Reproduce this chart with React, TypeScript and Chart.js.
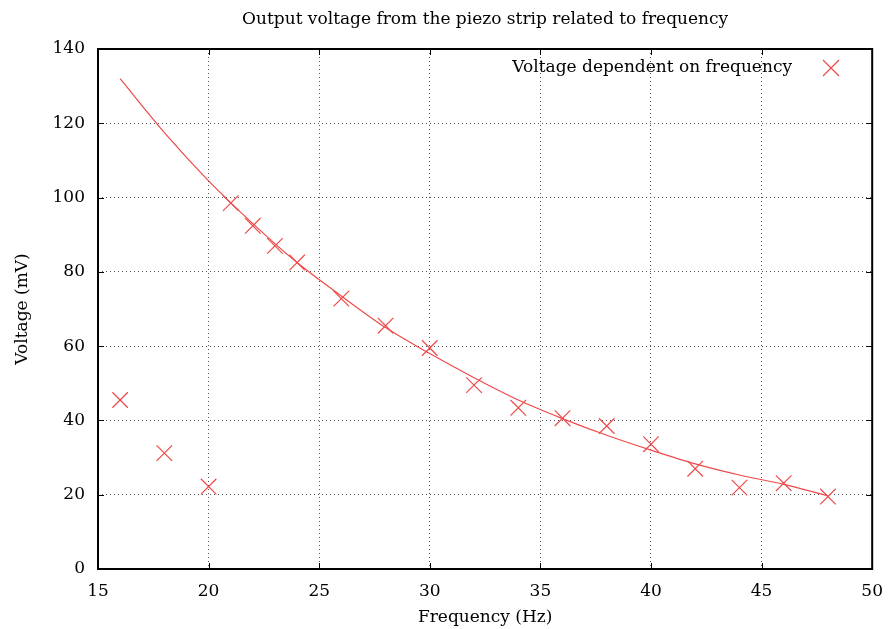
import React, { useEffect, useRef } from "react";
import { Chart, registerables } from "chart.js";

Chart.register(...registerables);

const freqs = [16, 18, 20, 21, 22, 23, 24, 26, 28, 30, 32, 34, 36, 38, 40, 42, 44, 46, 48];
const voltages = [45.5, 31.2, 22.2, 98.5, 92.4, 87, 82.5, 72.8, 65.5, 59.5, 49.5, 43.4, 40.6, 38.5, 33.6, 27, 21.9, 23.1, 19.5];
const fitX = [16, 18, 20, 22, 24, 26, 28, 30, 32, 34, 36, 38, 40, 42, 44, 46, 48];
const fitY = [132, 117.5, 104.5, 93, 82.5, 73.5, 65, 58, 51.5, 45.5, 40.5, 36, 32, 28.3, 25.3, 22.8, 19.7];
const xTicks = [15, 20, 25, 30, 35, 40, 45, 50];
const yTicks = [0, 20, 40, 60, 80, 100, 120, 140];

const TITLE = "Output voltage from the piezo strip related to frequency";
const X_TITLE = "Frequency (Hz)";
const Y_TITLE = "Voltage (mV)";
const LEGEND = "Voltage dependent on frequency";

const FONT = "'DejaVu Serif', serif";
const RED = "#ef4a4a";

const frame = {
  id: "frame",
  afterDatasetsDraw(chart: any) {
    const { ctx, chartArea: a, scales } = chart;
    const xs = scales.x, ys = scales.y;
    ctx.save();
    ctx.strokeStyle = "#000";
    ctx.lineWidth = 1;
    const tl = 6;
    ctx.beginPath();
    for (const v of xTicks) {
      const px = Math.round(xs.getPixelForValue(v)) + 0.5;
      ctx.moveTo(px, a.bottom);
      ctx.lineTo(px, a.bottom - tl);
      ctx.moveTo(px, a.top);
      ctx.lineTo(px, a.top + tl);
    }
    for (const v of yTicks) {
      const py = Math.round(ys.getPixelForValue(v)) + 0.5;
      ctx.moveTo(a.left, py);
      ctx.lineTo(a.left + tl, py);
      ctx.moveTo(a.right, py);
      ctx.lineTo(a.right - tl, py);
    }
    ctx.stroke();
    ctx.lineWidth = 2;
    ctx.strokeRect(a.left, a.top, a.right - a.left, a.bottom - a.top);
    // title
    ctx.font = "17px " + FONT;
    ctx.fillStyle = "#000";
    ctx.textAlign = "center";
    ctx.textBaseline = "middle";
    ctx.fillText(TITLE, (a.left + a.right) / 2, 20);
    // legend
    ctx.textAlign = "right";
    ctx.fillText(LEGEND, 792, 68);
    ctx.strokeStyle = RED;
    ctx.lineWidth = 1.2;
    const cx = 831, cy = 68, r = 8;
    ctx.beginPath();
    ctx.moveTo(cx - r, cy - r);
    ctx.lineTo(cx + r, cy + r);
    ctx.moveTo(cx - r, cy + r);
    ctx.lineTo(cx + r, cy - r);
    ctx.stroke();
    ctx.restore();
  },
};

export default function App() {
  const ref = useRef<HTMLCanvasElement>(null);
  useEffect(() => {
    const chart = new Chart(ref.current!, {
      type: "scatter",
      data: {
        datasets: [
          {
            label: LEGEND,
            data: freqs.map((x, i) => ({ x, y: voltages[i] })),
            pointStyle: "crossRot",
            pointRadius: 11,
            pointHoverRadius: 11,
            borderColor: RED,
            backgroundColor: RED,
            pointBorderColor: RED,
            pointBackgroundColor: RED,
            pointBorderWidth: 1.2,
            showLine: false,
          },
          {
            type: "line",
            label: "fit",
            data: fitX.map((x, i) => ({ x, y: fitY[i] })),
            borderColor: RED,
            backgroundColor: RED,
            borderWidth: 1.2,
            pointRadius: 0,
            cubicInterpolationMode: "monotone",
            fill: false,
          } as any,
        ],
      },
      options: {
        animation: false,
        responsive: true,
        maintainAspectRatio: false,
        events: [],
        layout: { padding: { left: 0, right: 13, top: 49, bottom: 0 } },
        plugins: {
          colors: { enabled: false },
          legend: { display: false },
          tooltip: { enabled: false },
          title: { display: false },
        },
        scales: {
          x: {
            type: "linear",
            min: 15,
            max: 50,
            afterBuildTicks: (s: any) => {
              s.ticks = xTicks.map((v) => ({ value: v }));
            },
            afterFit: (s: any) => {
              s.height = 60;
            },
            grid: { color: "#555", lineWidth: 1, drawTicks: false },
            border: { display: false, dash: [1, 3] },
            ticks: { color: "#000", padding: 12, font: { family: FONT, size: 17 }, maxRotation: 0 },
            title: {
              display: true,
              text: X_TITLE,
              color: "#000",
              font: { family: FONT, size: 17 },
              padding: { top: 4, bottom: 1 },
            },
          },
          y: {
            type: "linear",
            min: 0,
            max: 140,
            afterBuildTicks: (s: any) => {
              s.ticks = yTicks.map((v) => ({ value: v }));
            },
            afterFit: (s: any) => {
              s.width = 98;
            },
            grid: { color: "#555", lineWidth: 1, drawTicks: false },
            border: { display: false, dash: [1, 3] },
            ticks: { color: "#000", padding: 13, font: { family: FONT, size: 17 } },
            title: {
              display: true,
              text: Y_TITLE,
              color: "#000",
              font: { family: FONT, size: 17 },
              padding: { top: 12, bottom: 0 },
            },
          },
        },
      },
      plugins: [frame],
    } as any);
    return () => chart.destroy();
  }, []);
  return (
    <div style={{ position: "fixed", left: 0, top: 0, width: 895, height: 629, background: "#fff" }}>
      <canvas ref={ref} />
    </div>
  );
}
